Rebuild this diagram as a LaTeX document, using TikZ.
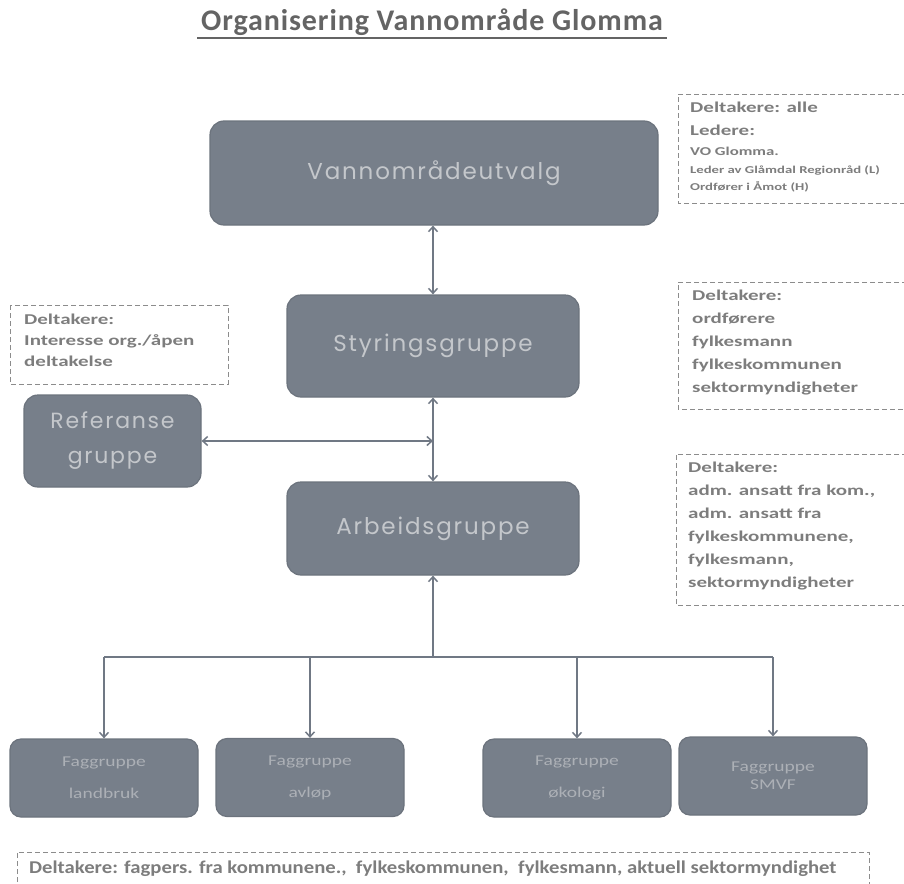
\documentclass[tikz,border=0pt]{standalone}
\usepackage{fontspec}
\setmainfont{Carlito}
\newfontfamily\geo[LetterSpace=8]{Poppins}
\newfontfamily\wide[FakeStretch=1.4]{Carlito}
\newfontfamily\midwide[FakeStretch=1.3]{Carlito}
\newfontfamily\lowwide[FakeStretch=1.15]{Carlito}
\newfontfamily\titlefont[LetterSpace=3]{Carlito}
\usetikzlibrary{arrows.meta}
\definecolor{boxfill}{RGB}{119,127,138}
\definecolor{boxline}{RGB}{108,115,125}
\definecolor{boxtext}{RGB}{196,199,203}
\definecolor{smalltext}{RGB}{172,176,182}
\definecolor{dashcol}{RGB}{140,140,140}
\definecolor{dashtext}{RGB}{125,125,125}
\definecolor{titlecol}{RGB}{100,100,100}
\definecolor{arrcol}{RGB}{112,120,132}
\tikzset{
  bigbox/.style={draw=boxline, line width=1.2pt, fill=boxfill, rounded corners=14pt, text=boxtext, font=\geo\fontsize{23}{28}\selectfont, align=center, inner sep=0pt},
  smallbox/.style={draw=boxline, line width=1.2pt, fill=boxfill, rounded corners=11pt, text=smalltext, font=\midwide\fontsize{15}{32}\selectfont, align=center, inner sep=0pt, minimum width=188pt, minimum height=78pt},
  dashbox/.style={draw=dashcol, line width=1pt, dash pattern=on 5pt off 3pt},
  dtext/.style={text=dashtext, font=\wide\bfseries\fontsize{15}{23}\selectfont, align=left, anchor=north west, inner sep=0pt},
  arr/.style={draw=arrcol, line width=1.5pt},
  tip/.style={-{Straight Barb[length=5pt,width=9pt]}},
  tips/.style={{Straight Barb[length=5pt,width=9pt]}-{Straight Barb[length=5pt,width=9pt]}}
}
\begin{document}
\begin{tikzpicture}[x=1pt,y=-1pt]
\useasboundingbox (0,0) rectangle (904,883);
% title
\node[text=titlecol, font=\titlefont\bfseries\fontsize{30}{34}\selectfont, inner sep=0pt] (title) at (432,22) {Organisering Vannområde Glomma};
\draw[titlecol, line width=2.2pt] (197,38) -- (667,38);

% main boxes
\node[bigbox, minimum width=448pt, minimum height=104pt] (vu) at (434,173) {Vannområdeutvalg};
\node[bigbox, minimum width=292pt, minimum height=102pt] (sg) at (433,346) {Styringsgruppe};
\node[bigbox, minimum width=292pt, minimum height=93pt] (ag) at (433,528.5) {Arbeidsgruppe};
\node[bigbox, minimum width=177pt, minimum height=92pt, font=\geo\fontsize{22}{35}\selectfont] (ref) at (112.5,441) {Referanse\\gruppe};

% small boxes
\node[smallbox] (f1) at (104,778) {Faggruppe\\landbruk};
\node[smallbox] (f2) at (310,777.5) {Faggruppe\\avløp};
\node[smallbox] (f3) at (577,778) {Faggruppe\\økologi};
\node[smallbox, font=\midwide\fontsize{15}{18}\selectfont] (f4) at (773,776) {Faggruppe\\SMVF};

% connectors
\draw[arr, tips] (vu.south -| sg.north) -- (sg.north);
\draw[arr, tips] (sg.south) -- (ag.north);
\draw[arr, tips] (ref.east) -- (ref.east -| sg.south);
\coordinate (j) at (433,657);
\draw[arr, tip] (j) -- (ag.south);
\draw[arr] (f1.north |- j) -- (f4.north |- j);
\draw[arr, tip] (f1.north |- j) -- (f1.north);
\draw[arr, tip] (f2.north |- j) -- (f2.north);
\draw[arr, tip] (f3.north |- j) -- (f3.north);
\draw[arr, tip] (f4.north |- j) -- (f4.north);

% dashed info boxes
\draw[dashbox] (907,94) -- (678,94) -- (678,203) -- (907,203);
\node[dtext] (d1) at (690,102) {Deltakere: alle\\Ledere:\\[-3pt]{\fontsize{12}{17}\selectfont VO Glomma.}\\[-5pt]{\fontsize{10.5}{16}\selectfont Leder av Glåmdal Regionråd (L)}\\[-6pt]{\fontsize{10.5}{16}\selectfont Ordfører i Åmot (H)}};

\draw[dashbox] (907,282) -- (678,282) -- (678,409) -- (907,409);
\node[dtext] (d2) at (692,290) {Deltakere:\\ordførere\\fylkesmann\\fylkeskommunen\\sektormyndigheter};

\draw[dashbox] (10,305) rectangle (228,384);
\node[dtext, font=\wide\bfseries\fontsize{15}{21}\selectfont] (d3) at (24,314) {Deltakere:\\Interesse org./åpen\\deltakelse};

\draw[dashbox] (907,454) -- (676,454) -- (676,605) -- (907,605);
\node[dtext, font=\wide\bfseries\fontsize{15}{23}\selectfont] (d4) at (688,462) {Deltakere:\\adm. ansatt fra kom.,\\adm. ansatt fra\\fylkeskommunene,\\fylkesmann,\\sektormyndigheter};

\draw[dashbox] (17,890) -- (17,852) -- (869,852) -- (869,890);
\node[dtext, font=\lowwide\bfseries\fontsize{18}{22}\selectfont, anchor=west] (d5) at (29,869) {Deltakere: fagpers. fra kommunene.,\ \ fylkeskommunen,\ \ fylkesmann, aktuell sektormyndighet};
\end{tikzpicture}
\end{document}
